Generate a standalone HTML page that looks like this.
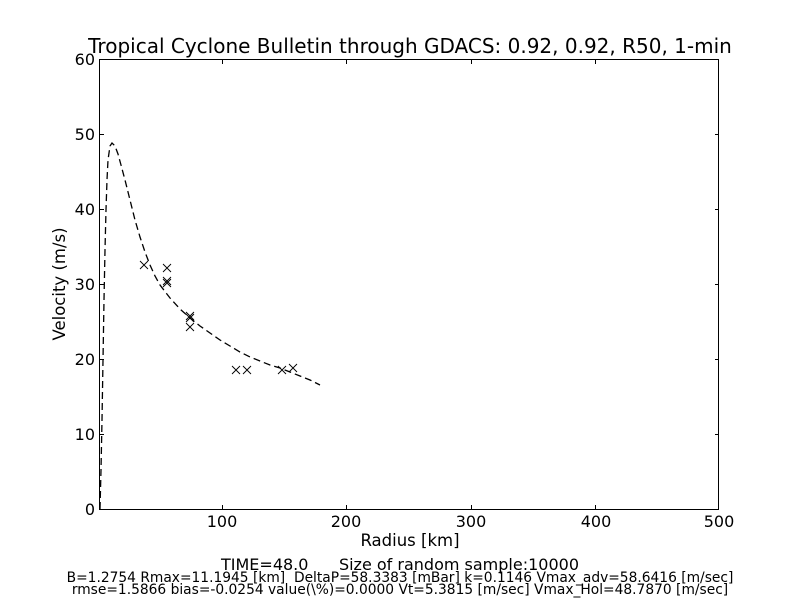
<!DOCTYPE html>
<html><head><style>body{margin:0;background:#fff}svg{display:block}text{font-family:"DejaVu Sans","Liberation Sans",sans-serif;fill:#000;white-space:pre}</style></head><body>
<svg width="800" height="600" xmlns="http://www.w3.org/2000/svg">
<rect width="800" height="600" fill="#fff"/>
<g stroke="#000" stroke-width="1" fill="none">
<rect x="99.5" y="59.5" width="619" height="450"/>
<path d="M222.5 509v-4M346.5 509v-4M471.5 509v-4M595.5 509v-4M222.5 60v4M346.5 60v4M471.5 60v4M595.5 60v4
M100 434.5h4M100 359.5h4M100 284.5h4M100 209.5h4M100 134.5h4M719 434.5h-4M719 359.5h-4M719 284.5h-4M719 209.5h-4M719 134.5h-4"/>
<polyline stroke-width="1.3" stroke-dasharray="7,4" points="100,509 101,470 102,420 103,360 104,300 105,250 106,210 107,180 108,160 110,146 112,143 115,146 118,154 121,165 125,180 130,200 135,220 140,237 145,252 150,265 155,276 160,285 170,298 180,309 190,318 200,326 210,333 220,340 230,346 240,352 250,357 260,361 270,365 280,368 290,372 300,376 310,380 320,385"/>
<g stroke-width="0.9">
<path d="M140 261l8 8M148 261l-8 8 M163 264l8 8M171 264l-8 8 M163 277l8 8M171 277l-8 8 M163 279l8 8M171 279l-8 8 M186 312l8 8M194 312l-8 8 M186 314l8 8M194 314l-8 8 M186 323l8 8M194 323l-8 8 M232 366l8 8M240 366l-8 8 M243 366l8 8M251 366l-8 8 M278 366l8 8M286 366l-8 8 M289 364l8 8M297 364l-8 8"/>
</g>
</g>
<text x="410" y="53" font-size="20" text-anchor="middle">Tropical Cyclone Bulletin through GDACS: 0.92, 0.92, R50, 1-min</text>
<g font-size="16" text-anchor="middle">
<text x="222" y="527">100</text><text x="346" y="527">200</text><text x="471" y="527">300</text><text x="596" y="527">400</text><text x="719" y="527">500</text>
</g>
<g font-size="16" text-anchor="end">
<text x="95" y="515">0</text><text x="95" y="440">10</text><text x="95" y="365">20</text><text x="95" y="290">30</text><text x="95" y="215">40</text><text x="95" y="140">50</text><text x="95" y="65">60</text>
</g>
<text x="410" y="546" font-size="16.5" text-anchor="middle">Radius [km]</text>
<text transform="translate(65,284) rotate(-90)" font-size="16.5" text-anchor="middle">Velocity (m/s)</text>
<text x="400" y="570" font-size="16" text-anchor="middle">TIME=48.0      Size of random sample:10000</text>
<text x="400" y="582" font-size="13.8" text-anchor="middle">B=1.2754 Rmax=11.1945 [km]  DeltaP=58.3383 [mBar] k=0.1146 Vmax_adv=58.6416 [m/sec]</text>
<text x="400" y="594" font-size="13.8" text-anchor="middle">rmse=1.5866 bias=-0.0254 value(\%)=0.0000 Vt=5.3815 [m/sec] Vmax_Hol=48.7870 [m/sec]</text>
</svg>
</body></html>
